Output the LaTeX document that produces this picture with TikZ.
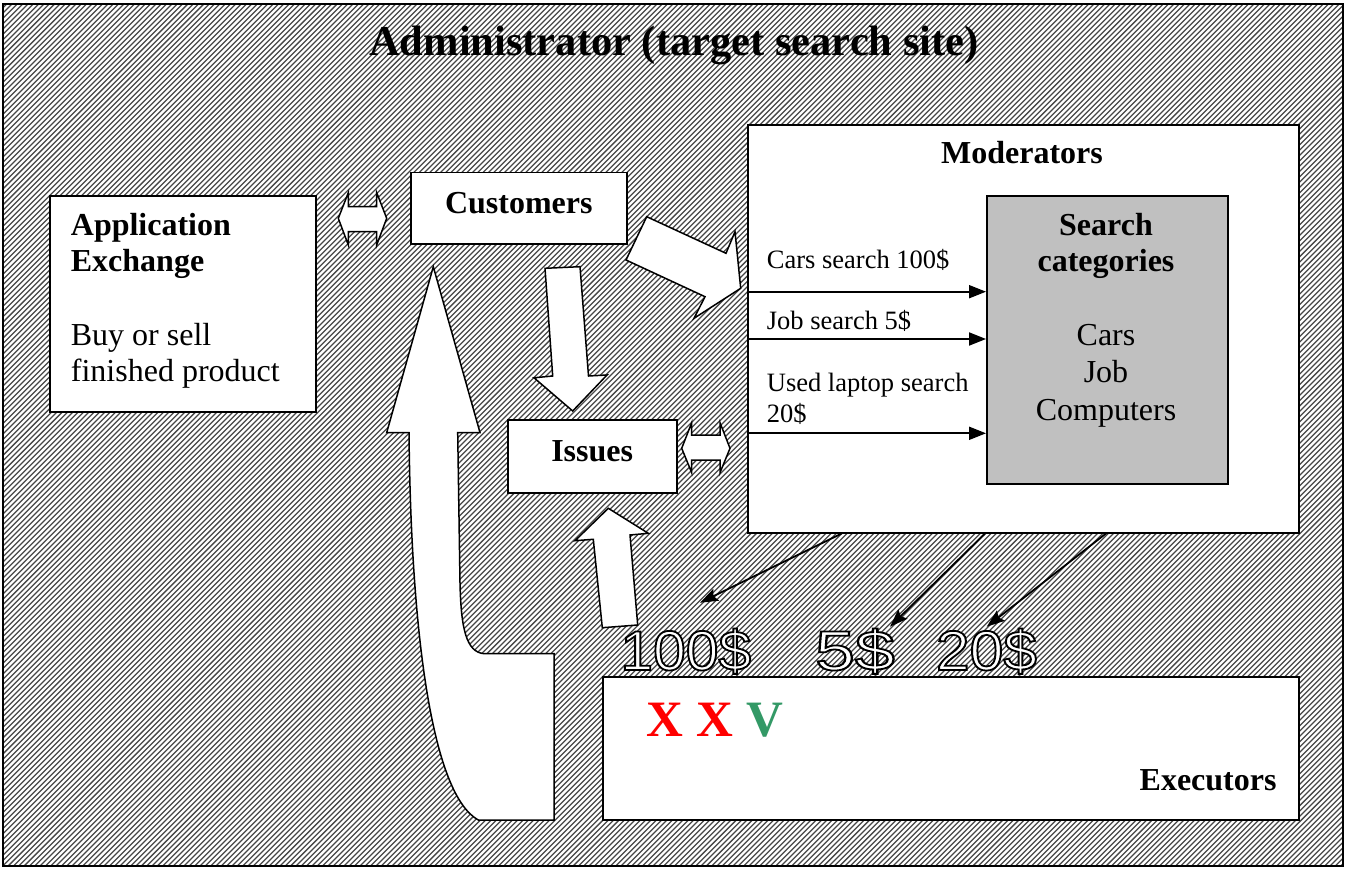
\documentclass[tikz,border=0pt]{standalone}
\usepackage{fontspec}
\setmainfont{Liberation Serif}
\newfontfamily\arialfont{Liberation Sans}
\usepackage{graphicx}
\usetikzlibrary{arrows.meta}
\definecolor{catgray}{HTML}{C0C0C0}
\definecolor{vgreen}{HTML}{339966}
\definecolor{xred}{HTML}{FF0000}
\newcommand\outlinetxt[1]{{\color{white}\special{pdf:literal direct 0 G 2 Tr 1.8 w}#1\special{pdf:literal direct 0 Tr}}}
\begin{document}
\begin{tikzpicture}[x=1pt,y=-1pt,
  box/.style={draw, line width=1.8pt, fill=white, inner sep=0pt, anchor=north west},
  bt/.style={inner sep=0pt, font=\fontsize{32}{36}\selectfont\bfseries},
  rt/.style={inner sep=0pt, font=\fontsize{32}{36}\selectfont},
  st/.style={inner sep=0pt, font=\fontsize{26.5}{30}\selectfont},
  dol/.style={inner sep=0pt, anchor=base, font=\fontsize{56}{60}\selectfont\arialfont},
  blk/.style={draw=black, line width=1.5pt, fill=white, line join=miter},
  hatchline/.style={line width=1.25pt, draw=black!72},
  arr/.style={line width=2pt, -{Triangle[length=17pt,width=13pt]}},
  arrd/.style={line width=1.8pt, -{Stealth[length=18pt,width=13pt,inset=3pt]}}]
\useasboundingbox (0,0) rectangle (1346,869);
\fill[white] (0,0) rectangle (1346,869);
% hatched background
\begin{scope}
  \clip (3,4) rectangle (1343,866);
  \foreach \c in {0,5.33,...,2230} \draw[hatchline] (\c,0) -- ++(-900,900);
\end{scope}
\draw[line width=2pt] (3,4) rectangle (1343,866);

% title
\node[inner sep=0pt, anchor=base, font=\fontsize{42.5}{46}\selectfont\bfseries] (title) at (674,56) {Administrator (target search site)};

% Application Exchange
\node[box, minimum width=265.7pt, minimum height=215.7pt] (app) at (49.3,195) {};
\node[bt, anchor=base west] (app1) at (70.7,235) {Application};
\node[bt, anchor=base west] (app2) at (70.7,271) {Exchange};
\node[rt, anchor=base west] (app3) at (70.7,345) {Buy or sell};
\node[rt, anchor=base west] (app4) at (70.7,381.7) {finished product};

% Customers
\node[box, minimum width=216pt, minimum height=71pt] (cust) at (410,171.7) {};
\node[bt, anchor=base] (custt) at (518.8,213.3) {Customers};

% Issues
\node[box, minimum width=168.7pt, minimum height=72.4pt] (iss) at (507.3,419.3) {};
\node[bt, anchor=base] (isst) at (592.2,461.7) {Issues};

% Moderators
\node[box, minimum width=551.3pt, minimum height=407.7pt] (mod) at (746.7,124) {};
\node[bt, anchor=base] (modt) at (1022,164) {Moderators};

% Search categories
\node[box, fill=catgray, minimum width=241pt, minimum height=288.3pt] (cat) at (986,195) {};
\node[bt, anchor=base] (cat1) at (1106,236) {Search};
\node[bt, anchor=base] (cat2) at (1106,271.7) {categories};
\node[rt, anchor=base] (cat3) at (1106,345.7) {Cars};
\node[rt, anchor=base] (cat4) at (1106,382.7) {Job};
\node[rt, anchor=base] (cat5) at (1106,420) {Computers};

% labels and arrows inside Moderators
\node[st, anchor=base west] (l1) at (766.7,268.3) {Cars search 100\$};
\node[st, anchor=base west] (l2) at (766.7,329.3) {Job search 5\$};
\node[st, anchor=base west] (l3) at (766.7,391.7) {Used laptop search};
\node[st, anchor=base west] (l3b) at (766.7,422.7) {20\$};
\draw[arr] (mod.west |- 0,291.7) -- (cat.west |- 0,291.7);
\draw[arr] (mod.west |- 0,339) -- (cat.west |- 0,339);
\draw[arr] (mod.west |- 0,433.3) -- (cat.west |- 0,433.3);

% Executors
\node[box, minimum width=696.3pt, minimum height=143.3pt] (exe) at (602,676) {};
\node[bt, anchor=base east] (exet) at (1276.7,790) {Executors};
\node[inner sep=0pt, anchor=base west, font=\fontsize{51}{55}\selectfont\bfseries] (xxv) at (646.7,736)
  {\textcolor{xred}{X} \textcolor{xred}{X} \textcolor{vgreen}{V}};

% arrows from Moderators to the prices
\coordinate (e100) at (700,602.7);
\coordinate (e5) at (890,626.7);
\coordinate (e20) at (986.7,626.7);
\draw[arrd] (841.7,0 |- mod.south) -- (e100);
\draw[arrd] (985,0 |- mod.south) -- (e5);
\draw[arrd] (1106,0 |- mod.south) -- (e20);

% block arrows
% double arrow Application Exchange <-> Customers
\draw[blk] (338.3,218.3) -- (348.3,192.7) -- (348.3,206.7) -- (376.7,206.7) -- (376.7,192.7)
  -- (386.7,218.3) -- (376.7,245) -- (376.7,231.7) -- (348.3,231.7) -- (348.3,245) -- cycle;
% double arrow Issues <-> Moderators
\draw[blk] (681.7,448.3) -- (691.7,422.7) -- (691.7,435) -- (720,435) -- (720,422.7)
  -- (730,448.3) -- (720,472.7) -- (720,460) -- (691.7,460) -- (691.7,472.7) -- cycle;
% Customers -> Moderators
\draw[blk] (646.7,216.7) -- (726,253.3) -- (735,231.7) -- (740.7,288.3) -- (694,318.3)
  -- (705,296.7) -- (626,260) -- cycle;
% Customers -> Issues
\draw[blk] (545,268.3) -- (580,266.7) -- (588.5,376) -- (607,375) -- (572.7,411)
  -- (534,377.8) -- (552.7,376) -- cycle;
% up arrow to Issues
\draw[blk] (608.3,508.3) -- (648.3,533.3) -- (630,535) -- (637.7,625) -- (602.3,627.7)
  -- (593.3,539.3) -- (575,540.7) -- cycle;
% big curved arrow
\draw[blk] (433.3,266.7) -- (480,432.6) -- (457.7,432.6) -- (460,583)
  .. controls (461,628) and (466,652) .. (484,653.7) -- (554,653.7) -- (554,820) -- (478.3,820)
  .. controls (433,795) and (411,640) .. (409,432.6) -- (386.7,432.6) -- cycle;

% dollar labels (outlined), drawn last
\node[dol] (d100) at (685.8,670) {\outlinetxt{\scalebox{1.05}[1]{100\$}}};
\node[dol] (d5) at (854.9,670) {\outlinetxt{\scalebox{1.28}[1]{5\$}}};
\node[dol] (d20) at (986.5,670) {\outlinetxt{\scalebox{1.08}[1]{20\$}}};
\end{tikzpicture}
\end{document}
